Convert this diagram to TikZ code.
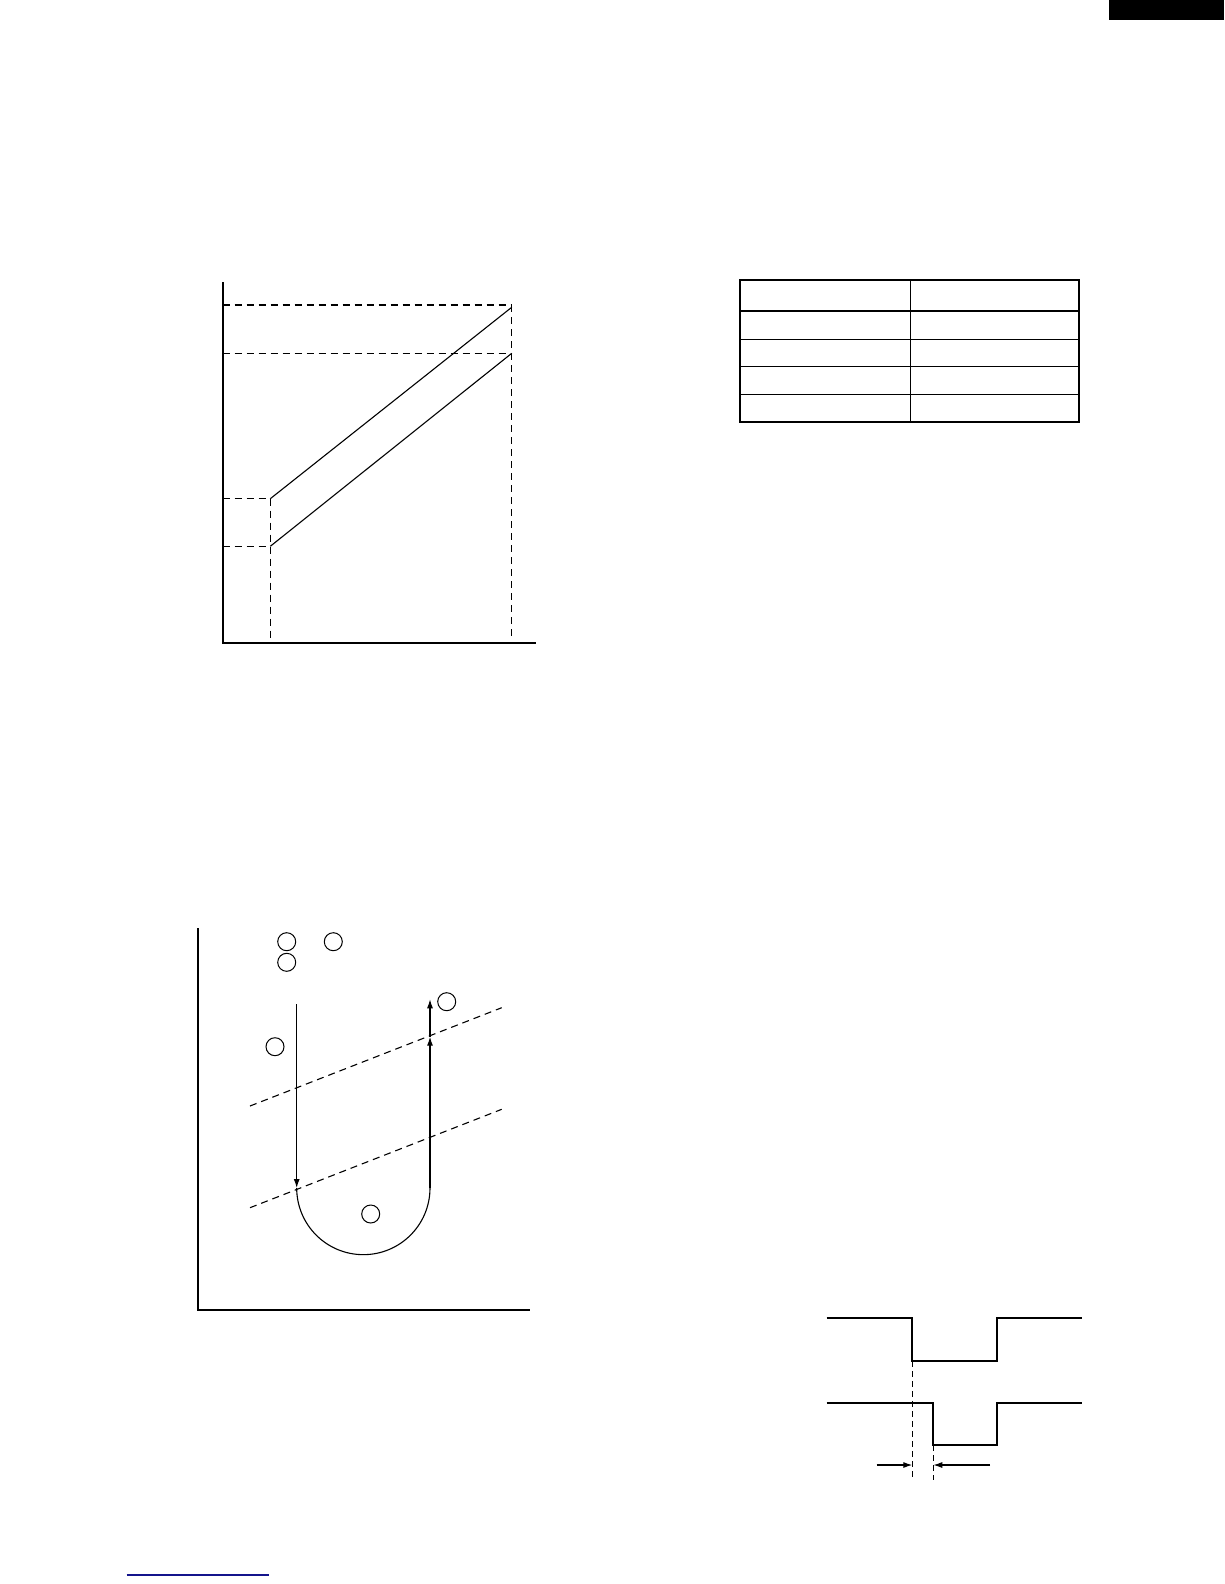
\documentclass[tikz,border=0pt]{standalone}
\usetikzlibrary{arrows.meta}
\definecolor{navy}{RGB}{20,20,140}
\begin{document}
\begin{tikzpicture}[x=1pt,y=-1pt,
  axis/.style={line width=2pt},
  thin/.style={line width=1.1pt},
  dsh/.style={line width=1.1pt,dash pattern=on 7pt off 5pt},
  sig/.style={line width=1.8pt},
  tip/.style={-{Latex[length=9pt,width=6pt]}},
  mark circ/.style={circle,draw,line width=1pt,minimum size=18pt,inner sep=0pt}]
\useasboundingbox (0,0) rectangle (1224,1584);
% corner tab
\fill (1109,0) rectangle (1224,20);
% ---------- chart 1 ----------
\coordinate (o1) at (222.7,642.7);
\coordinate (yt1) at (222.7,282);
\coordinate (xr1) at (536,642.7);
\draw[axis] (yt1) -- (o1) -- (xr1);
\coordinate (h1) at (222.7,305); \coordinate (h1e) at (511.7,305);
\coordinate (h2) at (222.7,353.3); \coordinate (h2e) at (511.7,353.3);
\coordinate (h3) at (222.7,498.7); \coordinate (h3e) at (270.3,498.7);
\coordinate (h4) at (222.7,546.3); \coordinate (h4e) at (270.3,546.3);
\draw[dsh] (h1) -- (h1e);
\draw[dsh] (h2) -- (h2e);
\draw[dsh] (h3) -- (h3e);
\draw[dsh] (h4) -- (h4e);
\coordinate (v1b) at (270.3,640); \coordinate (v2b) at (511.7,640);
\draw[dsh] (h3e) -- (v1b);
\draw[dsh] (h1e) -- (v2b);
\coordinate (u2) at (511.7,307.3);
\draw[thin] (h3e) -- (u2);
\draw[thin] (h4e) -- (h2e);
% ---------- table ----------
\coordinate (tl) at (740,280); \coordinate (br) at (1079,421.7);
\foreach \yy in {339.3,366.7,394.3} \draw[thin] (740,\yy) -- (1079,\yy);
\draw[line width=2.2pt] (740,310.7) -- (1079,310.7);
\draw[line width=1.5pt] (910.3,280) -- (910.3,421.7);
\draw[line width=2.4pt] (tl) rectangle (br);
% ---------- chart 2 ----------
\coordinate (o2) at (198,1310);
\coordinate (yt2) at (198,928);
\coordinate (xr2) at (530,1310);
\draw[axis] (yt2) -- (o2) -- (xr2);
\node[mark circ] (c1) at (286.7,941.7) {};
\node[mark circ] (c2) at (333.3,941.7) {};
\node[mark circ] (c3) at (286.7,962.3) {};
\node[mark circ] (c4) at (446.7,1001.7) {};
\node[mark circ] (c5) at (275,1046.7) {};
\node[mark circ] (c6) at (370.7,1214) {};
\coordinate (d1a) at (250,1106); \coordinate (d1b) at (501.7,1007.7);
\coordinate (d2a) at (250,1207.7); \coordinate (d2b) at (501.7,1109.3);
\draw[dsh] (d1a) -- (d1b);
\draw[dsh] (d2a) -- (d2b);
\coordinate (a0) at (296.7,1004);
\coordinate (a1) at (296.7,1188);
\coordinate (a2) at (430,1188);
\coordinate (a3) at (430,1036.7);
\coordinate (a4) at (430,999.3);
\draw[thin,tip] (a0) -- (a1);
\draw[thin] (a1) arc[start angle=180,end angle=0,radius=66.65] -- (a2);
\draw[thin,tip] (a2) -- (a3);
\draw[thin,tip] (a3) -- (a4);
% ---------- waveform ----------
\coordinate (s1a) at (826.7,1318.3); \coordinate (s1b) at (912.3,1318.3);
\coordinate (s1c) at (912.3,1361); \coordinate (s1d) at (997.3,1361);
\coordinate (s1e) at (997.3,1318.3); \coordinate (s1f) at (1081.7,1318.3);
\draw[sig] (s1a) -- (s1b) -- (s1c) -- (s1d) -- (s1e) -- (s1f);
\coordinate (s2a) at (826.7,1403.3); \coordinate (s2b) at (933.3,1403.3);
\coordinate (s2c) at (933.3,1445.3); \coordinate (s2d) at (997.3,1445.3);
\coordinate (s2e) at (997.3,1403.3); \coordinate (s2f) at (1081.7,1403.3);
\draw[sig] (s2a) -- (s2b) -- (s2c) -- (s2d) -- (s2e) -- (s2f);
\coordinate (w1) at (912.3,1480); \coordinate (w2) at (933.3,1480);
\draw[line width=1.1pt,dash pattern=on 6pt off 4pt] (s1c) -- (w1);
\draw[line width=1.1pt,dash pattern=on 6pt off 4pt] (s2c) -- (w2);
\coordinate (m1) at (876.7,1465); \coordinate (m2) at (912.3,1465);
\coordinate (m3) at (933.3,1465); \coordinate (m4) at (990,1465);
\draw[thin,tip] (m1) -- (m2);
\draw[thin,tip] (m4) -- (m3);
% ---------- bottom link line ----------
\coordinate (b1) at (126.7,1575); \coordinate (b2) at (269,1575);
\draw[navy,line width=1.3pt] (b1) -- (b2);
\end{tikzpicture}
\end{document}
